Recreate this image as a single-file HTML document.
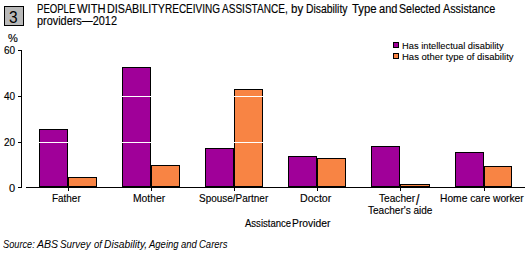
<!DOCTYPE html>
<html><head><meta charset="utf-8">
<style>
html,body{margin:0;padding:0;background:#fff;}
body{width:529px;height:253px;position:relative;overflow:hidden;font-family:"Liberation Sans",sans-serif;color:#000;}
.a{position:absolute;white-space:nowrap;line-height:1;transform-origin:0 0;-webkit-text-stroke:0.15px #000;}
.r{position:absolute;background:#000;}
.b{position:absolute;border:1px solid #000;box-sizing:border-box;}
.p{background:#a00099;}
.o{background:#f88444;}
</style></head><body>
<div class="b" style="left:4px;top:6px;width:20px;height:20px;background:#b9b9b9;"></div>
<div class="a" id="n3" style="left:9.00px;top:9.00px;font-size:15.5px;transform:scale(1.0000,1.0400);-webkit-text-stroke:0;">3</div>
<div class="a" id="t1_0" style="left:37.07px;top:3.00px;font-size:12px;transform:scale(0.7976,1.0000);">PEOPLE</div>
<div class="a" id="t1_1" style="left:77.00px;top:3.00px;font-size:12px;transform:scale(0.9332,1.0000);">WITH</div>
<div class="a" id="t1_2" style="left:106.97px;top:3.00px;font-size:12px;transform:scale(0.8960,1.0000);">DISABILITY</div>
<div class="a" id="t1_3" style="left:165.04px;top:3.00px;font-size:12px;transform:scale(0.8326,1.0000);">RECEIVING</div>
<div class="a" id="t1_4" style="left:222.00px;top:3.00px;font-size:12px;transform:scale(0.8378,1.0000);">ASSISTANCE,</div>
<div class="a" id="t1_5" style="left:290.89px;top:3.00px;font-size:12px;transform:scale(0.9600,1.0000);">by</div>
<div class="a" id="t1_6" style="left:305.99px;top:3.00px;font-size:12px;transform:scale(0.8640,1.0000);">Disability</div>
<div class="a" id="t1_7" style="left:352.00px;top:3.00px;font-size:12px;transform:scale(0.9463,1.0000);">Type</div>
<div class="a" id="t1_8" style="left:379.00px;top:3.00px;font-size:12px;transform:scale(0.9180,1.0000);">and</div>
<div class="a" id="t1_9" style="left:398.98px;top:3.00px;font-size:12px;transform:scale(0.8868,1.0000);">Selected</div>
<div class="a" id="t1_10" style="left:443.00px;top:3.00px;font-size:12px;transform:scale(0.8993,1.0000);">Assistance</div>
<div class="a" id="t2" style="left:37.09px;top:15.00px;font-size:12px;transform:scale(0.9080,1.0000);">providers&#8212;2012</div>
<div class="a" id="pct" style="left:8.00px;top:33.00px;font-size:11px;">%</div>
<div class="a" id="y60" style="left:4.00px;top:45.00px;font-size:11px;transform:scale(0.9091,1.0000);">60</div>
<div class="a" id="y40" style="left:4.00px;top:91.00px;font-size:11px;transform:scale(0.9091,1.0000);">40</div>
<div class="a" id="y20" style="left:4.00px;top:137.00px;font-size:11px;transform:scale(0.9091,1.0000);">20</div>
<div class="a" id="y0" style="left:9.00px;top:183.00px;font-size:11px;">0</div>
<div class="r" style="left:21px;top:50px;width:1px;height:138px;"></div>
<div class="r" style="left:18px;top:50px;width:3px;height:1px;"></div>
<div class="r" style="left:18px;top:96px;width:3px;height:1px;"></div>
<div class="r" style="left:18px;top:142px;width:3px;height:1px;"></div>
<div class="r" style="left:18px;top:187px;width:3px;height:1px;"></div>
<div class="b p" style="left:39px;top:129px;width:29px;height:58px;"></div>
<div class="b o" style="left:68px;top:177px;width:29px;height:10px;"></div>
<div class="b p" style="left:122px;top:67px;width:29px;height:120px;"></div>
<div class="b o" style="left:151px;top:165px;width:29px;height:22px;"></div>
<div class="b p" style="left:205px;top:148px;width:29px;height:39px;"></div>
<div class="b o" style="left:234px;top:89px;width:29px;height:98px;"></div>
<div class="b p" style="left:288px;top:156px;width:29px;height:31px;"></div>
<div class="b o" style="left:317px;top:158px;width:29px;height:29px;"></div>
<div class="b p" style="left:371px;top:146px;width:29px;height:41px;"></div>
<div class="b o" style="left:400px;top:184px;width:30px;height:3px;"></div>
<div class="b p" style="left:455px;top:152px;width:29px;height:35px;"></div>
<div class="b o" style="left:484px;top:166px;width:28px;height:21px;"></div>
<div class="r" style="left:26px;top:96px;width:499px;height:1px;background:#fff;"></div>
<div class="r" style="left:26px;top:142px;width:499px;height:1px;background:#fff;"></div>
<div class="r" style="left:26px;top:187px;width:499px;height:1px;"></div>
<div class="r" style="left:68px;top:188px;width:1px;height:3px;"></div>
<div class="r" style="left:151px;top:188px;width:1px;height:3px;"></div>
<div class="r" style="left:234px;top:188px;width:1px;height:3px;"></div>
<div class="r" style="left:317px;top:188px;width:1px;height:3px;"></div>
<div class="r" style="left:400px;top:188px;width:1px;height:3px;"></div>
<div class="r" style="left:484px;top:188px;width:1px;height:3px;"></div>
<div class="a" id="c1" style="left:52.10px;top:193.00px;font-size:11px;transform:scale(0.9025,1.0000);">Father</div>
<div class="a" id="c2" style="left:133.06px;top:193.00px;font-size:11px;transform:scale(0.9375,1.0000);">Mother</div>
<div class="a" id="c3" style="left:199.08px;top:193.00px;font-size:11px;transform:scale(0.9056,1.0000);">Spouse/Partner</div>
<div class="a" id="c4" style="left:300.03px;top:193.00px;font-size:11px;transform:scale(0.9667,1.0000);">Doctor</div>
<div class="a" id="c5a" style="left:379.00px;top:193.00px;font-size:11px;transform:scale(0.9229,1.0000);">Teacher</div>
<div class="a" id="c5s" style="left:416.00px;top:194.00px;font-size:11px;transform:scale(1.1250,1.2500);">/</div>
<div class="a" id="c5b" style="left:368.00px;top:205.00px;font-size:11px;transform:scale(0.9130,1.0000);">Teacher's aide</div>
<div class="a" id="c6" style="left:440.07px;top:193.00px;font-size:11px;transform:scale(0.9318,1.0000);">Home care worker</div>
<div class="a" id="ax" style="left:245.00px;top:218.00px;font-size:11px;transform:scale(0.8662,1.0000);">Assistance</div>
<div class="a" id="ax2" style="left:291.94px;top:218.00px;font-size:11px;transform:scale(0.9388,1.0000);">Provider</div>
<div class="b p" style="left:393px;top:42px;width:6px;height:6px;"></div>
<div class="b o" style="left:393px;top:53px;width:6px;height:6px;"></div>
<div class="a" id="l1" style="left:402.02px;top:41.00px;font-size:9.5px;transform:scale(0.9811,1.0000);-webkit-text-stroke:0.08px #000;">Has intellectual disability</div>
<div class="a" id="l2" style="left:402.00px;top:52.00px;font-size:9.5px;transform:scale(1.0010,1.0000);-webkit-text-stroke:0.08px #000;">Has other type of disability</div>
<div class="a" id="src_0" style="left:2.97px;top:239.00px;font-size:9.5px;transform:scale(0.9697,1.1200);font-style:italic;-webkit-text-stroke:0;">Source:</div>
<div class="a" id="src_1" style="left:37.00px;top:239.00px;font-size:9.5px;transform:scale(1.1111,1.1200);font-style:italic;-webkit-text-stroke:0;">ABS</div>
<div class="a" id="src_2" style="left:59.93px;top:239.00px;font-size:9.5px;transform:scale(1.0368,1.1200);font-style:italic;-webkit-text-stroke:0;">Survey</div>
<div class="a" id="src_3" style="left:94.00px;top:239.00px;font-size:9.5px;transform:scale(1.0000,1.1200);font-style:italic;-webkit-text-stroke:0;">of</div>
<div class="a" id="src_4" style="left:104.00px;top:239.00px;font-size:9.5px;transform:scale(1.0789,1.1200);font-style:italic;-webkit-text-stroke:0;">Disability,</div>
<div class="a" id="src_5" style="left:149.00px;top:239.00px;font-size:9.5px;transform:scale(1.0000,1.1200);font-style:italic;-webkit-text-stroke:0;">Ageing</div>
<div class="a" id="src_6" style="left:181.00px;top:239.00px;font-size:9.5px;transform:scale(1.0000,1.1200);font-style:italic;-webkit-text-stroke:0;">and</div>
<div class="a" id="src_7" style="left:199.00px;top:239.00px;font-size:9.5px;transform:scale(1.0000,1.1200);font-style:italic;-webkit-text-stroke:0;">Carers</div>
</body></html>
